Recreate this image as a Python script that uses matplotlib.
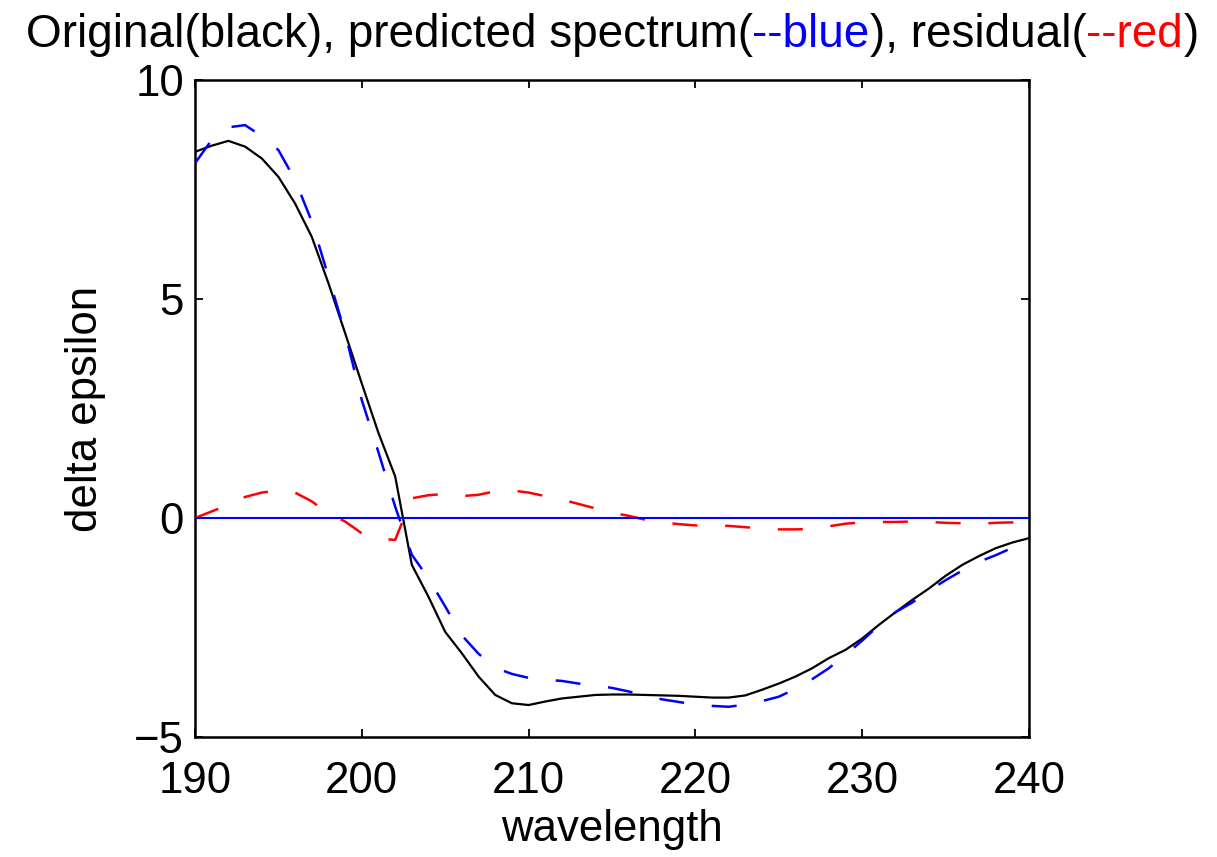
import numpy as np
import matplotlib
matplotlib.use("Agg")
import matplotlib.pyplot as plt
from matplotlib.offsetbox import TextArea, HPacker, AnchoredOffsetbox

plt.rcParams['font.family'] = ['Liberation Sans', 'DejaVu Sans']
plt.rcParams['lines.scale_dashes'] = False

# CD spectrum, 1 nm steps
wavelength = np.arange(190, 241)

original = [8.36, 8.50, 8.61, 8.48, 8.21, 7.79, 7.18, 6.42, 5.36, 4.22,
            3.07, 1.94, 0.95, -1.07, -1.80, -2.60, -3.09, -3.62, -4.04, -4.23,
            -4.27, -4.19, -4.12, -4.08, -4.04, -4.03, -4.03, -4.04, -4.05, -4.06,
            -4.08, -4.10, -4.10, -4.05, -3.92, -3.78, -3.62, -3.43, -3.20, -3.01,
            -2.75, -2.44, -2.15, -1.87, -1.61, -1.32, -1.07, -0.87, -0.69, -0.56,
            -0.46]

predicted = [8.10, 8.63, 8.92, 8.97, 8.72, 8.40, 7.72, 6.77, 5.51, 4.22,
             2.69, 1.50, 0.26, -0.84, -1.38, -2.02, -2.68, -3.10, -3.42, -3.56,
             -3.65, -3.69, -3.72, -3.78, -3.82, -3.88, -3.96, -4.06, -4.14, -4.20,
             -4.26, -4.29, -4.31, -4.26, -4.18, -4.08, -3.90, -3.68, -3.43, -3.12,
             -2.80, -2.45, -2.15, -1.93, -1.66, -1.42, -1.20, -1.00, -0.85, -0.68,
             -0.54]

residual = [0.00, 0.15, 0.30, 0.48, 0.58, 0.63, 0.58, 0.38, 0.10, -0.08,
            -0.35, -0.47, -0.50, 0.45, 0.52, 0.55, 0.50, 0.53, 0.61, 0.63,
            0.58, 0.50, 0.42, 0.32, 0.22, 0.12, 0.05, -0.04, -0.10, -0.14,
            -0.17, -0.18, -0.18, -0.21, -0.24, -0.26, -0.26, -0.25, -0.19, -0.13,
            -0.10, -0.09, -0.09, -0.08, -0.09, -0.11, -0.12, -0.13, -0.11, -0.10,
            -0.08]

x_ticks = [190, 200, 210, 220, 230, 240]
y_ticks = [-5, 0, 5, 10]

FS = 31.5
TITLE_FS = 33

fig = plt.figure(figsize=(12.17, 8.57), dpi=100)
ax = fig.add_axes([195 / 1217, 1 - 737 / 857, (1029 - 195) / 1217, (737 - 80) / 857])

dash = (0, (18, 20))
ax.plot(wavelength, original, color='black', lw=1.6, zorder=3)
ax.plot(wavelength, predicted, color=(0, 0, 1), lw=1.8, linestyle=dash, zorder=3)
ax.plot(wavelength, residual, color=(1, 0, 0), lw=1.8, linestyle=dash, zorder=3)
ax.axhline(0, color=(0, 0, 1), lw=1.5, zorder=4)

ax.set_xlim(190, 240)
ax.set_ylim(-5, 10)
ax.set_xticks(x_ticks)
ax.set_yticks(y_ticks)
ax.tick_params(direction='in', length=6, width=1.3, top=True, right=True,
               labelsize=FS)
ax.tick_params(axis='x', pad=17)
ax.tick_params(axis='y', pad=8)
for s in ax.spines.values():
    s.set_linewidth(1.8)

ax.set_xlabel('wavelength', fontsize=FS, labelpad=5)
ax.set_ylabel('delta epsilon', fontsize=FS, labelpad=20)

# multi-coloured title
parts = [("Original(black), predicted spectrum(", 'black'),
         ("--blue", (0, 0, 1)),
         ("), residual(", 'black'),
         ("--red", (1, 0, 0)),
         (")", 'black')]
boxes = [TextArea(s, textprops=dict(color=c, fontsize=TITLE_FS)) for s, c in parts]
pack = HPacker(children=boxes, align='baseline', pad=0, sep=0)
title = AnchoredOffsetbox(loc='lower center', child=pack, pad=0, borderpad=0,
                          frameon=False, bbox_to_anchor=(0.5, 1 + 23 / 657),
                          bbox_transform=ax.transAxes)
ax.add_artist(title)

fig.savefig('out.png', dpi=100)
